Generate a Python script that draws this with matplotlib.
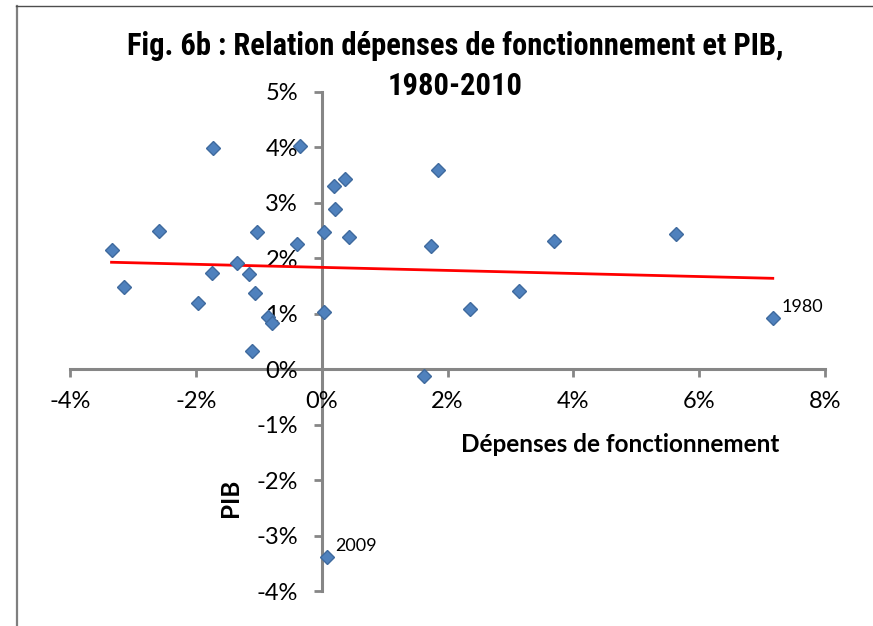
import numpy as np
import matplotlib.pyplot as plt
from matplotlib import font_manager as fm
from matplotlib.ticker import PercentFormatter, MultipleLocator
from matplotlib.lines import Line2D

plt.rcParams['axes.unicode_minus'] = False

# Croissance des dépenses de fonctionnement (x) et du PIB (y), en %
depenses = [-3.34, -3.14, -2.58, -1.73, -1.97, -1.74, -1.35, -1.16, -1.02, -1.06,
            -0.85, -0.79, -1.10, -0.39, -0.35, 0.03, 0.04, 0.20, 0.37, 0.21,
            0.43, 1.85, 1.74, 3.69, 5.63, 3.13, 2.35, 7.17, 1.62, 0.09]
pib = [2.15, 1.49, 2.50, 3.99, 1.20, 1.74, 1.91, 1.71, 2.48, 1.37,
       0.94, 0.84, 0.33, 2.26, 4.03, 2.47, 1.04, 3.30, 3.43, 2.89,
       2.38, 3.60, 2.23, 2.32, 2.44, 1.41, 1.09, 0.93, -0.13, -3.39]
annees_labels = {27: "1980", 29: "2009"}
titre = ["Fig. 6b : Relation dépenses de fonctionnement et PIB,", "1980-2010"]

x = np.array(depenses) / 100
y = np.array(pib) / 100

# pick a narrow font for the title if one is installed
names = {f.name for f in fm.fontManager.ttflist}
condensed = {f.name for f in fm.fontManager.ttflist if 'condensed' in str(f.stretch)}
if 'Liberation Sans Narrow' in names:
    title_font, title_size, title_stretch = 'Liberation Sans Narrow', 22, 'normal'
elif 'Roboto Condensed' in names:
    title_font, title_size, title_stretch = 'Roboto Condensed', 22, 'normal'
elif 'DejaVu Sans' in condensed:
    title_font, title_size, title_stretch = 'DejaVu Sans', 19, 'condensed'
else:
    title_font, title_size, title_stretch = 'Liberation Sans', 18, 'normal'

fig = plt.figure(figsize=(8.73, 6.26), dpi=100)
ax = fig.add_axes([70 / 873, 1 - 591 / 626, 755 / 873, 499 / 626])

axis_grey = "#868686"
sans = ["Lato", "DejaVu Sans"]

# trend line (linear fit, like Excel)
slope, intercept = np.polyfit(x, y, 1)
xs = np.array([x.min(), x.max()])
ax.plot(xs, slope * xs + intercept, color="red", lw=2, zorder=2)

ax.plot(x, y, linestyle="none", marker="D", markersize=7.5,
        markerfacecolor="#4F81BD", markeredgecolor="#3F6A9E", markeredgewidth=1, zorder=3)

for i, txt in annees_labels.items():
    ax.annotate(txt, (x[i], y[i]), xytext=(6, 8), textcoords="offset points",
                fontsize=13, family=sans, ha="left", va="center")

ax.set_xlim(-0.04, 0.08)
ax.set_ylim(-0.04, 0.05)
ax.xaxis.set_major_locator(MultipleLocator(0.02))
ax.yaxis.set_major_locator(MultipleLocator(0.01))
ax.xaxis.set_major_formatter(PercentFormatter(1.0, decimals=0))
ax.yaxis.set_major_formatter(PercentFormatter(1.0, decimals=0))

ax.spines["left"].set_position(("data", 0))
ax.spines["bottom"].set_position(("data", 0))
ax.spines["top"].set_visible(False)
ax.spines["right"].set_visible(False)
for s in ("left", "bottom"):
    ax.spines[s].set_color(axis_grey)
    ax.spines[s].set_linewidth(2.2)
    ax.spines[s].set_zorder(1)

ax.tick_params(axis="both", direction="out", length=6, width=2, color=axis_grey)
ax.tick_params(axis="x", pad=10)
ax.tick_params(axis="y", pad=11)
for lab in ax.get_xticklabels() + ax.get_yticklabels():
    lab.set_fontfamily(sans)
    lab.set_fontsize(17)

# title, two lines centred on the (wider) chart area
for line, ypx in zip(titre, [55, 95]):
    fig.text(455 / 873, 1 - ypx / 626, line, ha="center", va="baseline",
             fontsize=title_size, fontweight="bold",
             family=[title_font, "Liberation Sans", "DejaVu Sans"], fontstretch=title_stretch)

fig.text(620 / 873, 1 - 445 / 626, "Dépenses de fonctionnement", ha="center", va="center",
         fontsize=17.5, fontweight="bold", family=sans)
fig.text(230 / 873, 1 - 498 / 626, "PIB", ha="center", va="center", rotation=90,
         fontsize=17.5, fontweight="bold", family=sans)

# chart area border (left and top edges visible)
fig.add_artist(Line2D([16.5 / 873, 16.5 / 873], [0, 1 - 6 / 626], transform=fig.transFigure,
                      color="#7f7f7f", lw=1.6))
fig.add_artist(Line2D([16 / 873, 1], [1 - 6 / 626, 1 - 6 / 626], transform=fig.transFigure,
                      color="#4d4d4d", lw=1.0))

fig.savefig("out.png", dpi=100)
